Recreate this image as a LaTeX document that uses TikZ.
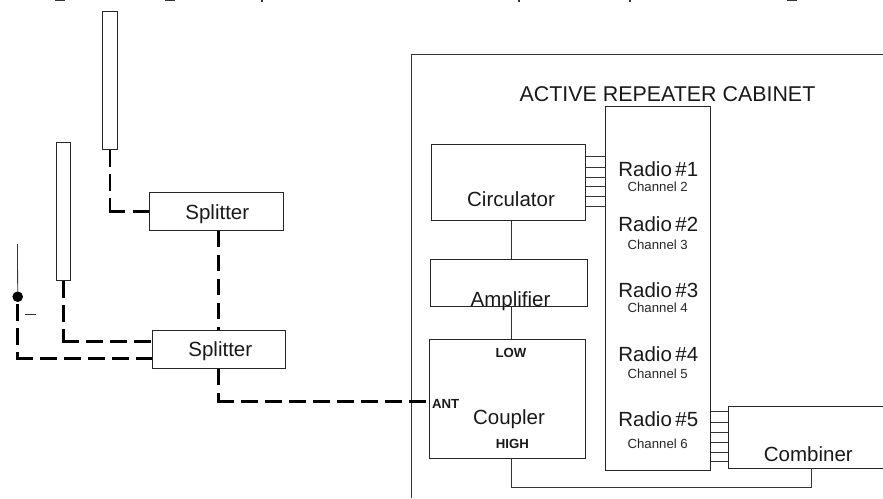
\documentclass[tikz,border=0pt]{standalone}
\usepackage{fontspec}
\setmainfont{Liberation Sans}
\begin{document}
\begin{tikzpicture}[x=1pt,y=-1pt,
  box/.style={draw=black!85,line width=0.8pt,fill=none,inner sep=0pt},
  thin line/.style={draw=black!80,line width=0.8pt},
  cable/.style={draw=black,line width=2.6pt,dash pattern=on 16.5pt off 7.5pt},
  scrap/.style={draw=black!80,line width=1.6pt},
  big/.style={font=\fontsize{20.5}{22}\selectfont,inner sep=0pt,text=black!90},
  small/.style={font=\fontsize{13.2}{15}\selectfont,inner sep=0pt,text=black!85},
  tag/.style={font=\fontsize{13.2}{15}\bfseries\selectfont,inner sep=0pt,text=black!90}]
\useasboundingbox (0,0) rectangle (883,498);
% remnants of the cropped line at the top edge
\draw[scrap] (55,0.6) -- (65,0.6);
\draw[scrap] (165,0.6) -- (175,0.6);
\draw[scrap] (262,0) -- (262,2);
\draw[scrap] (519,0) -- (519,2);
\draw[scrap] (630,0) -- (630,2);
\draw[scrap] (787,0.6) -- (797,0.6);
% antennas
\node[box,minimum width=14.6pt,minimum height=138pt] (ant1) at (110,80.7) {};
\node[box,minimum width=14.6pt,minimum height=138.6pt] (ant2) at (63.5,211.4) {};
\coordinate (whipTop) at (17.5,244);
\node[circle,fill=black,inner sep=0pt,minimum size=10.6pt] (dot) at (17.7,296.7) {};
\coordinate (stub1) at (25,314.4);
\coordinate (stub2) at (36,314.4);
\draw[thin line] (whipTop) -- (dot);
\draw[thin line] (stub1) -- (stub2);
% splitters
\node[box,minimum width=133.7pt,minimum height=38pt] (sp1) at (216.2,211.3) {};
\node[big,anchor=base] (sp1t) at (217.3,219.5) {Splitter};
\node[box,minimum width=133.4pt,minimum height=38pt] (sp2) at (219,349.3) {};
\node[big,anchor=base] (sp2t) at (220.3,356.5) {Splitter};
% cabinet
\coordinate (cabR) at (883,54);
\coordinate (cabC) at (411.8,54);
\coordinate (cabB) at (411.8,498);
\draw[thin line] (cabR) -- (cabC) -- (cabB);
\node[anchor=base,font=\fontsize{21.4}{23}\selectfont,inner sep=0pt,text=black!90] (title) at (667.5,101.7) {ACTIVE REPEATER CABINET};
% blocks
\node[box,minimum width=154.8pt,minimum height=76pt] (circ) at (508.3,182.7) {};
\node[big,anchor=base] (circt) at (511,206.7) {Circulator};
\node[box,minimum width=157.6pt,minimum height=47pt] (amp) at (509,282.5) {};
\node[big,anchor=base] (ampt) at (510.5,306) {Amplifier};
\node[box,minimum width=155.3pt,minimum height=118.6pt] (coup) at (507.3,399) {};
\node[big,anchor=base] (coupt) at (509,424) {Coupler};
\node[tag] (low) at (511,353) {LOW};
\node[tag] (high) at (512.3,444) {HIGH};
\node[tag] (antl) at (445.7,404) {ANT};
\node[box,minimum width=105pt,minimum height=363.6pt] (radio) at (657.8,288.5) {};
\node[box,minimum width=154.3pt,minimum height=61.3pt] (comb) at (805.9,437.3) {};
\node[big,anchor=base] (combt) at (808.3,461.7) {Combiner};
% radios
\foreach \n/\c/\y/\yy in {1/2/176/191.7,2/3/231.7/249,3/4/297.3/312.7,4/5/361/378.3,5/6/426/448.3}{
  \node[big,anchor=base] (r\n) at (658.3,\y) {Radio\hspace{3.5pt}\#\n};
  \node[small,anchor=base] (c\n) at (657.7,\yy) {Channel \c};
}
% bundles
\foreach \y in {156.7,167.3,177,186.7,196,206}{
  \coordinate (lv) at (0,\y);
  \draw[thin line] (circ.east |- lv) -- (radio.west |- lv);
}
\foreach \y in {411.7,422.7,432.7,442,452,461.3}{
  \coordinate (lv) at (0,\y);
  \draw[thin line] (radio.east |- lv) -- (comb.west |- lv);
}
% thin links
\coordinate (linkx) at (511,0);
\coordinate (busL) at (511,487.5);
\coordinate (busR) at (811.7,487.5);
\draw[thin line] (circ.south -| linkx) -- (amp.north -| linkx);
\draw[thin line] (amp.south -| linkx) -- (coup.north -| linkx);
\draw[thin line] (coup.south -| linkx) -- (busL) -- (busR) -- (comb.south -| busR);
% cables: each leg restarts its dashes at the corner
\coordinate (cx1) at (218.4,0);
\coordinate (cx2) at (218.3,0);
\coordinate (cy1) at (0,341.7);
\coordinate (cy2) at (0,358.3);
\coordinate (cy3) at (0,401.7);
\coordinate (k1) at (ant1.south |- sp1.west);
\coordinate (k2) at (ant2.south |- cy1);
\coordinate (k3) at (dot.south |- cy2);
\coordinate (k4) at (cx2 |- cy3);
\coordinate (d0) at ([yshift=-2pt]dot.south);
\coordinate (h1) at ([xshift=-1.3pt]k1);
\coordinate (h2) at ([xshift=-1.3pt]k2);
\coordinate (h3) at ([xshift=-1.3pt]k3);
\coordinate (h4) at ([xshift=-1.3pt]k4);
\draw[cable] (ant1.south) -- (k1);
\draw[cable] (h1) -- (sp1.west);
\draw[cable] (sp1.south -| cx1) -- (sp2.north -| cx1);
\draw[cable] (ant2.south) -- (k2);
\draw[cable] (h2) -- (sp2.west |- cy1);
\draw[cable] (d0) -- (k3);
\draw[cable] (h3) -- (sp2.west |- cy2);
\draw[cable] (sp2.south -| cx2) -- (k4);
\draw[cable] (h4) -- (coup.west |- cy3);
\end{tikzpicture}
\end{document}
